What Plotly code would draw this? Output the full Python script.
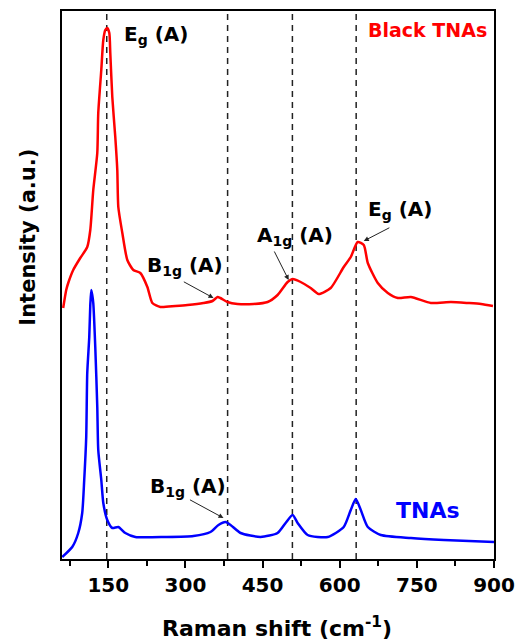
import plotly.graph_objects as go

# ---------------- data ----------------
red_x = [62.3, 68.2, 72.1, 81.8, 95.5, 109.1, 115, 120.8, 128.6, 130.5, 136.4, 140.3, 144.2, 148, 152,
         153.9, 157.8, 163.6, 167.5, 169.5, 177.3, 187, 198.7, 212.3, 226, 235.7, 251.3, 280.5, 304,
         335, 352.6, 362.4, 368, 381.8, 401.3, 432.5, 459.8, 479.2, 498.7, 508.5, 524, 543.5, 559,
         582.5, 607.8, 621.5, 635, 646.8, 654.6, 674, 693.5, 713, 738.4, 777.3, 816.3, 849.4, 874.8, 898]
red_y = [251, 269, 276, 289, 301, 312, 329, 369, 406, 446, 489, 519, 529, 531, 526,
         506, 462, 422, 389, 352, 326, 299, 289, 286, 272, 256, 252, 253, 254,
         256, 258, 262, 261, 257, 255, 255, 257, 264, 277, 280, 277, 271, 265,
         271, 292, 302, 317, 314, 296, 276, 266, 261, 262, 256, 257, 256, 255, 253]

blue_x = [60.4, 79.9, 91.6, 99.3, 103.2, 107.1, 109.1, 113, 115, 116.9, 118.8, 120.8, 124.7, 128.6,
          130.5, 136.4, 140.3, 148, 157.8, 169.5, 183.1, 202.6, 261, 315.6, 348.7, 364.3, 377.9,
          387.7, 407.2, 446.1, 479.2, 494.8, 508.5, 518.2, 537.7, 576.7, 607.8, 621.5, 631.2, 641,
          654.6, 679.9, 738.4, 802.6, 900]
blue_y = [2, 12, 26, 46, 79, 122, 186, 222, 254, 269, 264, 256, 212, 152,
          109, 79, 56, 39, 31, 32, 26, 22, 22, 23, 27, 34, 37,
          34, 26, 22, 26, 36, 44, 36, 24, 22, 32, 49, 60, 49,
          32, 24, 21, 19, 17]

peak_lines = [147, 382, 508, 632]
tick_vals = [150, 300, 450, 600, 750, 900]
minor_vals = [75, 225, 375, 525, 675, 825]

FONT = "DejaVu Sans"

fig = go.Figure()
fig.add_trace(go.Scatter(x=red_x, y=red_y, mode="lines",
                         line=dict(color="#ff0000", width=2.5, shape="spline", smoothing=0.6),
                         name="Black TNAs", showlegend=False))
fig.add_trace(go.Scatter(x=blue_x, y=blue_y, mode="lines",
                         line=dict(color="#0000ff", width=2.5, shape="spline", smoothing=0.6),
                         name="TNAs", showlegend=False))

for xv in peak_lines:
    fig.add_shape(type="line", xref="x", yref="paper", x0=xv, x1=xv, y0=0, y1=1,
                  line=dict(color="#222222", width=1.5, dash="6px,5px"), layer="below")

# text labels
labels = [
    ("E<sub>g</sub> (A)", 177, 524, "black", 20),
    ("B<sub>1g</sub> (A)", 222, 293, "black", 20),
    ("A<sub>1g</sub> (A)", 436, 323, "black", 20),
    ("E<sub>g</sub> (A)", 651, 349, "black", 20),
    ("B<sub>1g</sub> (A)", 228, 72, "black", 20),
    ("Black TNAs", 651, 529, "#ff0000", 19),
    ("TNAs", 705, 49, "#0000ff", 22),
]
for t, x, y, c, s in labels:
    fig.add_annotation(text="<b>" + t + "</b>", x=x, y=y, xref="x", yref="y", showarrow=False,
                       xanchor="left", yanchor="middle", font=dict(family=FONT, size=s, color=c))

# arrows (tail -> head)
arrows = [
    (294, 278, 354.6, 261),
    (471.4, 309, 500.7, 279),
    (699.4, 332, 646.8, 318),
    (305.9, 60, 374, 41),
]
for ax_, ay_, hx, hy in arrows:
    fig.add_annotation(text="", x=hx, y=hy, ax=ax_, ay=ay_, xref="x", yref="y", axref="x", ayref="y",
                       showarrow=True, arrowhead=2, arrowsize=1, arrowwidth=1, arrowcolor="#222222")

# axis titles
fig.add_annotation(text="<b>Intensity (a.u.)</b>", xref="paper", yref="paper", x=-0.079, y=0.588,
                   textangle=-90, showarrow=False, xanchor="center", yanchor="middle",
                   font=dict(family=FONT, size=21, color="black"))
fig.add_annotation(text="<b>Raman shift (cm<sup>-1</sup>)</b>", xref="paper", yref="paper", x=0.498, y=-0.124,
                   showarrow=False, xanchor="center", yanchor="middle",
                   font=dict(family=FONT, size=22, color="black"))

fig.update_xaxes(range=[60, 900], tickvals=tick_vals, ticktext=["<b>%d</b>" % v for v in tick_vals],
                 ticks="outside", ticklen=7, tickwidth=2, tickcolor="black",
                 minor=dict(tickvals=minor_vals, ticks="outside", ticklen=5,
                            tickwidth=2, tickcolor="black"),
                 showline=True, linecolor="black", linewidth=2, mirror=True, showgrid=False, zeroline=False,
                 tickfont=dict(family=FONT, size=20, color="black"), automargin=False)
fig.update_yaxes(range=[0, 548], showticklabels=False, ticks="", showline=True, linecolor="black",
                 linewidth=2, mirror=True, showgrid=False, zeroline=False, automargin=False)

fig.update_layout(width=516, height=641, margin=dict(l=62, r=22, t=11, b=82, autoexpand=False),
                  paper_bgcolor="white", plot_bgcolor="white", showlegend=False,
                  font=dict(family=FONT, color="black"))

fig.write_html("out.html", config={"displayModeBar": False},
               post_script="document.body.style.margin='0';document.body.style.overflow='hidden';")
